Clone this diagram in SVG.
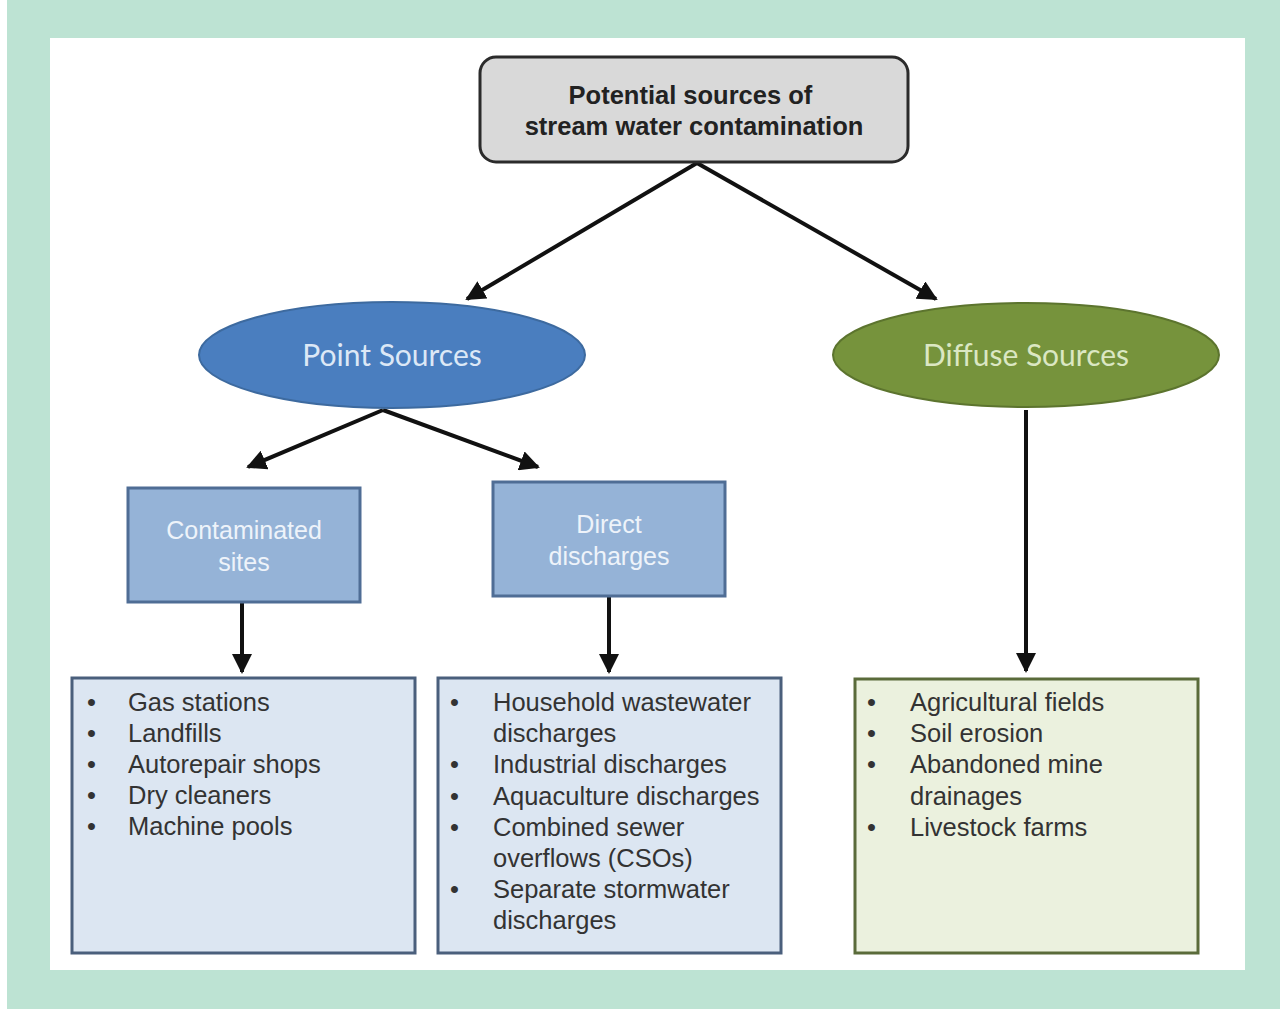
<svg xmlns="http://www.w3.org/2000/svg" width="1286" height="1009" viewBox="0 0 1286 1009">
<defs>
<style>
.list{font-family:"Liberation Sans",Arial,sans-serif;font-size:25.5px;fill:#333}
.box{font-family:"Liberation Sans",Arial,sans-serif;font-size:25px;fill:#eef3fa;text-anchor:middle}
.ell{font-family:Lato,"Noto Sans",sans-serif;font-size:30px;text-anchor:middle}
.conn{stroke:#111;stroke-width:4;fill:none;marker-end:url(#ah)}
</style>
<marker id="ah" viewBox="0 0 10 10" refX="9" refY="5" markerWidth="5" markerHeight="5" orient="auto" markerUnits="strokeWidth">
<path d="M0,0 L10,5 L0,10 z" fill="#111"/>
</marker>
</defs>
<rect x="0" y="0" width="1286" height="1009" fill="#ffffff"/>
<rect x="7" y="0" width="1273" height="1009" fill="#bde3d3"/>
<rect x="50" y="38" width="1195" height="932" fill="#ffffff"/>

<g id="connectors">
<line class="conn" x1="697" y1="163" x2="467" y2="299"/>
<line class="conn" x1="697" y1="163" x2="936" y2="299"/>
<line class="conn" x1="383" y1="410" x2="248" y2="467"/>
<line class="conn" x1="383" y1="410" x2="538" y2="467"/>
<line class="conn" x1="242" y1="602" x2="242" y2="672"/>
<line class="conn" x1="609" y1="597" x2="609" y2="672"/>
<line class="conn" x1="1026" y1="410" x2="1026" y2="671"/>
</g>

<g id="root">
<rect x="480" y="57" width="428" height="105" rx="16" fill="#d9d9d9" stroke="#2b2b2b" stroke-width="3"/>
<text font-family="'Liberation Sans',Arial,sans-serif" font-size="25.5px" font-weight="bold" fill="#222" text-anchor="middle">
<tspan x="694" y="104">Potential sources of</tspan>
<tspan x="694" y="135">stream water contamination</tspan>
</text>
</g>

<g id="point-sources">
<ellipse cx="392" cy="355" rx="193" ry="53" fill="#4a7ebf" stroke="#3d6a9f" stroke-width="2"/>
<text class="ell" x="392" y="366" fill="#dce8f6">Point Sources</text>
</g>

<g id="diffuse-sources">
<ellipse cx="1026" cy="355" rx="193" ry="52" fill="#76933c" stroke="#5c742e" stroke-width="2"/>
<text class="ell" x="1026" y="366" fill="#dbe7c3">Diffuse Sources</text>
</g>

<g id="contaminated-sites">
<rect x="128" y="488" width="232" height="114" fill="#95b3d7" stroke="#4f6d95" stroke-width="3"/>
<text class="box"><tspan x="244" y="539">Contaminated</tspan><tspan x="244" y="571">sites</tspan></text>
</g>

<g id="direct-discharges">
<rect x="493" y="482" width="232" height="114" fill="#95b3d7" stroke="#4f6d95" stroke-width="3"/>
<text class="box"><tspan x="609" y="533">Direct</tspan><tspan x="609" y="565">discharges</tspan></text>
</g>

<g id="point-list-1">
<rect x="72" y="678" width="343" height="275" fill="#dce6f2" stroke="#4a5f7c" stroke-width="3"/>
<text class="list">
<tspan x="87" y="711">•</tspan><tspan x="128" y="711">Gas stations</tspan>
<tspan x="87" y="742">•</tspan><tspan x="128" y="742">Landfills</tspan>
<tspan x="87" y="773">•</tspan><tspan x="128" y="773">Autorepair shops</tspan>
<tspan x="87" y="804">•</tspan><tspan x="128" y="804">Dry cleaners</tspan>
<tspan x="87" y="835">•</tspan><tspan x="128" y="835">Machine pools</tspan>
</text>
</g>

<g id="point-list-2">
<rect x="438" y="678" width="343" height="275" fill="#dce6f2" stroke="#4a5f7c" stroke-width="3"/>
<text class="list">
<tspan x="450" y="711">•</tspan><tspan x="493" y="711">Household wastewater</tspan>
<tspan x="493" y="742">discharges</tspan>
<tspan x="450" y="773">•</tspan><tspan x="493" y="773">Industrial discharges</tspan>
<tspan x="450" y="805">•</tspan><tspan x="493" y="805">Aquaculture discharges</tspan>
<tspan x="450" y="836">•</tspan><tspan x="493" y="836">Combined sewer</tspan>
<tspan x="493" y="867">overflows (CSOs)</tspan>
<tspan x="450" y="898">•</tspan><tspan x="493" y="898">Separate stormwater</tspan>
<tspan x="493" y="929">discharges</tspan>
</text>
</g>

<g id="diffuse-list">
<rect x="855" y="679" width="343" height="274" fill="#ebf1de" stroke="#5a6b3a" stroke-width="3"/>
<text class="list">
<tspan x="867" y="711">•</tspan><tspan x="910" y="711">Agricultural fields</tspan>
<tspan x="867" y="742">•</tspan><tspan x="910" y="742">Soil erosion</tspan>
<tspan x="867" y="773">•</tspan><tspan x="910" y="773">Abandoned mine</tspan>
<tspan x="910" y="805">drainages</tspan>
<tspan x="867" y="836">•</tspan><tspan x="910" y="836">Livestock farms</tspan>
</text>
</g>
</svg>
